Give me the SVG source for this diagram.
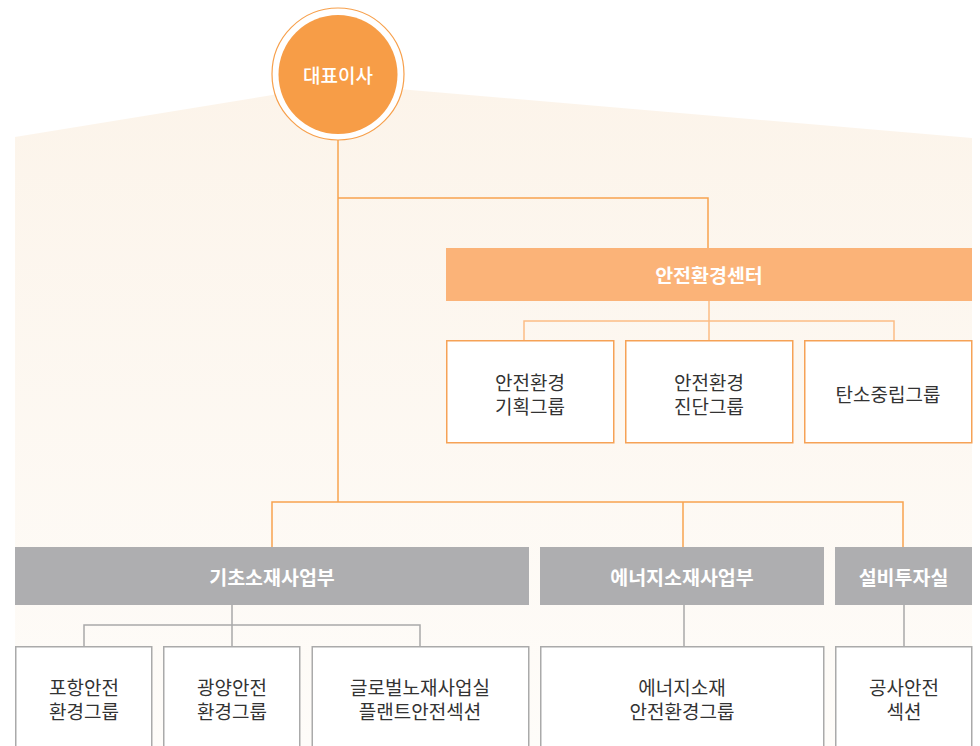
<svg xmlns="http://www.w3.org/2000/svg" width="980" height="746" viewBox="0 0 980 746">
<defs>
<linearGradient id="bg" x1="0" y1="0" x2="0" y2="1">
<stop offset="0" stop-color="#fcf4ea"/>
<stop offset="1" stop-color="#fefcf9"/>
</linearGradient>
<style>
.t{font-family:"Noto Sans CJK KR","Noto Sans",sans-serif;font-size:19px;text-anchor:middle;dominant-baseline:central}
.w{fill:#ffffff;font-weight:bold;font-size:19.5px}
.d{fill:#333333}
.ob{fill:#ffffff;stroke:#f6a256;stroke-width:1.5}
.gb{fill:#ffffff;stroke:#aaaaaa;stroke-width:1.5}
.oc{fill:none;stroke:#f7a34f;stroke-width:1.5}
.lc{fill:none;stroke:#fbbd85;stroke-width:1.5}
.gc{fill:none;stroke:#a9a9a9;stroke-width:1.5}
</style>
</defs>
<rect width="980" height="746" fill="#ffffff"/>
<polygon points="15,137 340,84 972,138 972,746 15,746" fill="url(#bg)"/>
<g id="connectors">
<polyline class="oc" points="338,138 338,502"/>
<polyline class="oc" points="338,198 708,198 708,248"/>
<polyline class="lc" points="709,300 709,340"/>
<polyline class="lc" points="524,340 524,321 894,321 894,340"/>
<polyline class="oc" points="272,547 272,502 903,502 903,547"/>
<polyline class="oc" points="683,502 683,547"/>
<polyline class="gc" points="232,604 232,646"/>
<polyline class="gc" points="84,646 84,625 420,625 420,646"/>
<polyline class="gc" points="684,604 684,646"/>
<polyline class="gc" points="904,604 904,646"/>
</g>
<g id="ceo">
<circle cx="338" cy="74" r="66" fill="#ffffff" stroke="#f7a04c" stroke-width="1.2"/>
<circle cx="338" cy="74.5" r="59.5" fill="#f79d47"/>
<text class="t" x="338" y="74" fill="#ffffff" font-weight="500" font-size="19.5px">대표이사</text>
</g>
<g id="center">
<rect x="446" y="248" width="526" height="53" fill="#fbb378"/>
<text class="t w" x="709" y="274.5">안전환경센터</text>
</g>
<g id="c1">
<rect class="ob" x="446.75" y="340.75" width="167" height="102"/>
<text class="t d" x="530" y="381">안전환경</text>
<text class="t d" x="530" y="405">기획그룹</text>
</g>
<g id="c2">
<rect class="ob" x="625.75" y="340.75" width="167" height="102"/>
<text class="t d" x="709" y="381">안전환경</text>
<text class="t d" x="709" y="405">진단그룹</text>
</g>
<g id="c3">
<rect class="ob" x="804.75" y="340.75" width="167" height="102"/>
<text class="t d" x="888" y="393">탄소중립그룹</text>
</g>
<g id="d1">
<rect x="15" y="547" width="514" height="58" fill="#aeaeb0"/>
<text class="t w" x="272" y="576">기초소재사업부</text>
</g>
<g id="d2">
<rect x="540" y="547" width="284" height="58" fill="#aeaeb0"/>
<text class="t w" x="682" y="576">에너지소재사업부</text>
</g>
<g id="d3">
<rect x="835" y="547" width="137" height="58" fill="#aeaeb0"/>
<text class="t w" x="903.5" y="576">설비투자실</text>
</g>
<g id="g1">
<rect class="gb" x="15.75" y="646.75" width="136" height="110"/>
<text class="t d" x="84" y="686">포항안전</text>
<text class="t d" x="84" y="710">환경그룹</text>
</g>
<g id="g2">
<rect class="gb" x="163.75" y="646.75" width="136" height="110"/>
<text class="t d" x="232" y="686">광양안전</text>
<text class="t d" x="232" y="710">환경그룹</text>
</g>
<g id="g3">
<rect class="gb" x="312.25" y="646.75" width="216.5" height="110"/>
<text class="t d" x="420" y="686">글로벌노재사업실</text>
<text class="t d" x="420" y="710">플랜트안전섹션</text>
</g>
<g id="g4">
<rect class="gb" x="540.75" y="646.75" width="283" height="110"/>
<text class="t d" x="682" y="686">에너지소재</text>
<text class="t d" x="682" y="710">안전환경그룹</text>
</g>
<g id="g5">
<rect class="gb" x="835.75" y="646.75" width="136" height="110"/>
<text class="t d" x="904" y="686">공사안전</text>
<text class="t d" x="904" y="710">섹션</text>
</g>
</svg>
